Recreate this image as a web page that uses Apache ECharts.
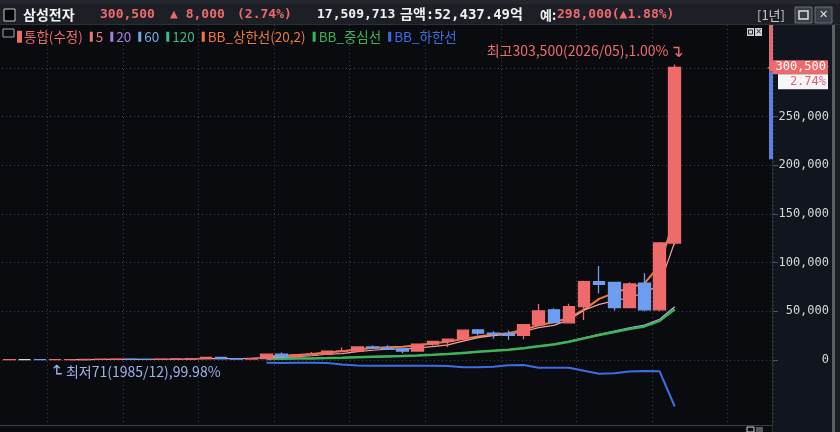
<!DOCTYPE html>
<html><head><meta charset="utf-8">
<script src="https://cdn.jsdelivr.net/npm/echarts@6/dist/echarts.min.js"></script>
<style>html,body{margin:0;padding:0;background:#0a0b0f;overflow:hidden}#c{width:840px;height:432px}</style>
</head><body><div id="c"></div>
<script>
// ---- data ----
const years = ['1982','1983','1984','1985','1986','1987','1988','1989','1990','1991','1992','1993','1994','1995','1996','1997','1998','1999','2000','2001','2002','2003','2004','2005','2006','2007','2008','2009','2010','2011','2012','2013','2014','2015','2016','2017','2018','2019','2020','2021','2022','2023','2024','2025','2026','2027','2028','2029','2030','2031','2032'];
// [open, close, low, high]
const ohlc = [
  [95,110,90,125],[110,110,100,130],[110,92,85,118],[92,125,71,130],[125,230,120,240],
  [230,420,220,450],[420,560,400,600],[560,620,500,700],[620,480,430,640],[480,430,400,560],
  [430,620,380,650],[620,900,600,950],[900,1300,880,1500],[1300,2400,1250,2600],[2400,1100,1050,2450],
  [1100,750,700,1300],[750,1350,650,1400],[1350,5800,1300,6000],[5800,3100,2600,7500],[3100,5100,2700,5400],
  [5100,5500,4600,8000],[5500,8900,5000,9300],[8900,9000,8200,12600],[9000,13200,8400,13400],[13200,12300,11000,14600],
  [12300,11200,10400,15000],[11200,9000,6600,11900],[9000,16000,8400,16400],[16000,19000,14500,19600],[19000,21200,13200,21300],
  [21200,30400,20200,30500],[30700,27400,25200,31700],[27400,26500,21700,29400],[26600,25200,20700,30200],[25200,36000,21000,36300],
  [36000,50300,35800,57200],[51300,38300,37450,53000],[38000,54700,37450,57500],[54700,80400,41000,81300],[80400,77500,68300,96500],
  [79400,53700,50600,80300],[53700,78000,53000,79800],[78800,51300,49900,89000],[51300,120000,50000,121000],[120000,300500,118000,303500]
];
const ma5 = ['-','-','-','-',133,195,285,391,462,502,542,610,746,1130,1264,1290,1380,2280,2420,3220,4150,5680,6320,8340,9780,10920,10940,12340,13500,15280,19120,22800,24900,26140,29100,33100,35300,41000,51000,57000,60500,64000,68800,77000,121000];
const pad17 = ['-','-','-','-','-','-','-','-','-','-','-','-','-','-','-','-','-'];
const ma20 = pad17.concat([1000,1150,1350,1550,1850,2200,2700,3200,3600,3900,4500,5200,6000,7200,8300,9400,10500,12000,14000,16100,19000,22500,26200,29600,32900,35600,41600,54500]);
const bbUpper = pad17.concat([3500,4200,5000,6000,7400,8800,10500,12000,13000,13500,15000,17000,18500,21500,24000,26000,27400,31000,35500,38500,43000,51500,62600,68800,74000,78500,97000,146000]);
const bbMid = pad17.concat([900,1050,1250,1450,1750,2100,2600,3100,3500,3800,4400,5100,5900,7100,8200,9300,10400,11900,13800,15800,18600,22000,25500,28600,31700,34300,40000,52000]);
const bbLower = pad17.concat([-3000,-3300,-3000,-3000,-3200,-4800,-5800,-6000,-6000,-6000,-6000,-6200,-6400,-7600,-7600,-7200,-5600,-5400,-8200,-8200,-8200,-11300,-14400,-13900,-12000,-11600,-11800,-48000]);
const yTicks = [0,50000,100000,150000,200000,250000,300000];
const scaleBar = [0, 344000, 296000, 206000];
const stockName = '삼성전자';
const changeVal = '8,000', changePct = '2.74%';
const volumeText = '17,509,713';
const amountText = '금액:52,437.49억';
const expectText = '298,000(▲1.88%)';
const highInfo = {year:'2026', value:303500, text:'최고303,500(2026/05),1.00%'};
const lowInfo = {year:'1985', value:71, text:'최저71(1985/12),99.98%'};

// ---- styles ----
const UP='#ef6b6b', DN='#6e9df2';
const MONO="'DejaVu Sans Mono', monospace";
const KR="'Noto Sans CJK KR', 'Noto Sans', sans-serif";
const fmt = v => Number(v).toLocaleString('en-US');
const last = ohlc[ohlc.length-1];

const candleData = ohlc.map((d,i)=> (d[0]===d[1]) ? {value:d, itemStyle:{color:'#d8d8d8',borderColor:'#d8d8d8'}} : d);

const legendItems = [
  ['통합(수정)', UP], ['5', '#e87a7a'], ['20', '#a97ee2'], ['60', '#78a8e0'], ['120', '#3fb98f'],
  ['BB_상한선(20,2)', '#f07a3c'], ['BB_중심선', '#3cb45a'], ['BB_하한선', '#3d6ee6']
];

const chart = echarts.init(document.getElementById('c'), null, {renderer:'canvas'});
const hdrY = 15;
function htxt(x, t, color, font){ return {type:'text', z:110, x:x, y:hdrY, style:{text:t, fill:color, font:font, verticalAlign:'middle'}}; }

chart.setOption({
  backgroundColor:'#0a0b0f',
  animation:false,
  grid:{left:2, right:67, top:25, bottom:7},
  legend:{
    left:17, top:30, itemWidth:3, itemHeight:10, itemGap:7, padding:0, icon:'rect', selectedMode:false,
    textStyle:{fontSize:13.5, fontFamily:KR, padding:[0,0,0,-2]},
    data: legendItems.map(l=>({name:l[0], textStyle:{color:l[1]}}))
  },
  xAxis:{
    type:'category', data:years, boundaryGap:true,
    axisLine:{show:false}, axisTick:{show:false}, axisLabel:{show:false},
    splitLine:{show:true, interval:(i)=> i%5===3, lineStyle:{color:'#3a3f48', type:[1,3], width:1}}
  },
  yAxis:{
    type:'value', position:'right', min:-67000, max:344000, scale:false,
    axisLine:{show:false},
    axisTick:{show:true, customValues:yTicks, length:5, lineStyle:{color:'#4c525c'}},
    axisLabel:{customValues:yTicks, formatter:v=>fmt(v), color:'#d8d8d8', fontFamily:MONO, fontSize:12, align:'right', margin:56},
    splitLine:{show:true, lineStyle:{color:'#3a3f48', type:[1,3], width:1}}
  },
  series:[
    {name:'120', type:'line', data:[], color:'#3fb98f'},
    {name:'60', type:'line', data:[], color:'#78a8e0'},
    {name:'BB_하한선', type:'line', data:bbLower, color:'#3d6ee6', symbol:'none', lineStyle:{width:2}},
    {name:'20', type:'line', data:ma20, color:'#a97ee2', symbol:'none', lineStyle:{width:1.2, color:'#c9a6f0'}},
    {name:'BB_중심선', type:'line', data:bbMid, color:'#3cb45a', symbol:'none', lineStyle:{width:2.5}},
    {name:'BB_상한선(20,2)', type:'line', data:bbUpper, color:'#f07a3c', symbol:'none', lineStyle:{width:2}},
    {name:'5', type:'line', data:ma5, color:'#e87a7a', symbol:'none', lineStyle:{width:1.2, color:'#eaa2a2'}},
    {name:'통합(수정)', type:'candlestick', data:candleData, barWidth:12, z:3, clip:false,
      itemStyle:{color:UP, color0:DN, borderColor:UP, borderColor0:DN, borderWidth:1.3},
      markPoint:{
        symbol:'circle', symbolSize:1, itemStyle:{color:'rgba(0,0,0,0)'}, silent:true,
        data:[
          {name:'hi', coord:[highInfo.year, highInfo.value], label:{show:true, position:'inside', align:'right', verticalAlign:'middle', offset:[9,-14],
            formatter:'{t|'+highInfo.text+'}{a|↴}', rich:{t:{color:UP, fontFamily:KR, fontSize:14}, a:{color:UP, fontFamily:'DejaVu Sans', fontSize:17, padding:[4,0,0,1]}}}},
          {name:'loArrow', coord:[lowInfo.year, lowInfo.value], label:{show:true, position:'inside', align:'center', verticalAlign:'middle', offset:[-4,-9], rotate:180,
            formatter:'↴', color:'#9cb2ea', fontFamily:'DejaVu Sans', fontSize:16}},
          {name:'lo', coord:[lowInfo.year, lowInfo.value], label:{show:true, position:'inside', align:'left', verticalAlign:'middle', offset:[11,12],
            formatter:lowInfo.text, color:'#9cb2ea', fontFamily:KR, fontSize:14}}
        ]
      },
      markLine:{
        silent:true, symbol:['none','none'],
        lineStyle:{color:'rgba(0,0,0,0)', width:0, opacity:1},
        label:{show:true},
        data:[{yAxis:last[1],
          label:{show:true, position:'end', distance:-6, formatter:'{e|}\n{t|◀}{a|'+fmt(last[1])+'}\n{b|'+changePct+'}',
            rich:{
              e:{height:15},
              t:{color:UP, fontFamily:'DejaVu Sans', fontSize:9, width:6, height:14, align:'left'},
              a:{backgroundColor:UP, color:'#ffffff', fontFamily:MONO, fontSize:12, width:53, height:14, align:'right', padding:[0,2,0,0]},
              b:{backgroundColor:'#f6f6f6', color:'#e2607c', fontFamily:MONO, fontSize:12, width:48, height:15, align:'right', padding:[0,2,0,0]}
            }}}]
      }
    },
    {name:'scaleBar', type:'custom', z:5, silent:true, clip:false, encode:{x:0, y:[1,2,3]}, data:[scaleBar],
      renderItem:(params, api)=>{
        const cs = params.coordSys; const x = cs.x + cs.width - 4;
        const y0 = api.coord([0, api.value(1)])[1], y1 = api.coord([0, api.value(2)])[1], y2 = api.coord([0, api.value(3)])[1];
        return {type:'group', children:[
          {type:'rect', shape:{x:x, y:y0, width:4, height:y1-y0}, style:{fill:'#e06a72'}},
          {type:'rect', shape:{x:x, y:y1, width:4, height:y2-y1}, style:{fill:'#5a7ee2'}}
        ]};
      }}
  ],
  graphic:[
    {type:'rect', z:-1, shape:{x:773, y:25, width:60, height:407}, style:{fill:'#11151d'}},
    {type:'rect', z:-1, shape:{x:772, y:25, width:1, height:407}, style:{fill:'#2a2f38'}},
    {type:'rect', z:-1, shape:{x:832, y:25, width:3, height:407}, style:{fill:'#5a5e66'}},
    {type:'rect', z:-1, shape:{x:835, y:25, width:5, height:407}, style:{fill:'#1a1d22'}},
    {type:'rect', z:-1, shape:{x:0, y:425, width:772, height:1}, style:{fill:'#3a3e46'}},
    {type:'rect', z:100, shape:{x:0, y:0, width:840, height:4}, style:{fill:'#24272d'}},
    {type:'rect', z:100, shape:{x:0, y:4, width:840, height:21}, style:{fill:'#1c1f26'}},
    {type:'rect', z:100, shape:{x:0, y:24, width:840, height:1}, style:{fill:'#2c3038'}},
    {type:'rect', z:110, shape:{x:4, y:9, width:11, height:12}, style:{fill:'#050505', stroke:'#c8c8c8', lineWidth:1}},
    htxt(23, stockName, '#f2f2f2', 'bold 14px '+KR),
    htxt(100, fmt(last[1]), UP, 'bold 13px '+MONO),
    htxt(170, '▲ '+changeVal, UP, 'bold 13px '+MONO),
    htxt(237, '('+changePct+')', UP, 'bold 13px '+MONO),
    htxt(317, volumeText, '#f0f0f0', 'bold 13px '+MONO),
    htxt(400, amountText, '#f0f0f0', 'bold 14px '+MONO+', '+KR),
    htxt(540, '예:', '#f0f0f0', 'bold 13px '+KR),
    htxt(557, expectText, UP, 'bold 13px '+MONO),
    htxt(757, '[1년]', '#c8c8c8', '13px '+KR),
    {type:'rect', z:110, shape:{x:795, y:7, width:17, height:16}, style:{fill:'#3a3e46', stroke:'#6a6e76', lineWidth:1}},
    {type:'rect', z:111, shape:{x:799, y:11, width:9, height:8}, style:{fill:'none', stroke:'#e0e0e0', lineWidth:1.5}},
    {type:'rect', z:110, shape:{x:815, y:7, width:17, height:16}, style:{fill:'#3a3e46', stroke:'#6a6e76', lineWidth:1}},
    {type:'text', z:111, x:823.5, y:15, style:{text:'✕', fill:'#e0e0e0', font:'bold 11px DejaVu Sans', align:'center', verticalAlign:'middle'}},
    {type:'rect', z:110, shape:{x:3, y:29, width:11, height:8}, style:{fill:'none', stroke:'#a0a6ae', lineWidth:1}},
    {type:'rect', z:110, shape:{x:747, y:28, width:7, height:8}, style:{fill:'#cfd2d6'}},
    {type:'rect', z:111, shape:{x:748.5, y:30, width:4, height:4}, style:{fill:'none', stroke:'#222', lineWidth:1}},
    {type:'rect', z:110, shape:{x:755, y:28, width:7, height:8}, style:{fill:'#cfd2d6'}},
    {type:'text', z:111, x:758.5, y:32, style:{text:'×', fill:'#222', font:'8px DejaVu Sans', align:'center', verticalAlign:'middle'}},
    {type:'rect', z:110, shape:{x:747, y:427, width:7, height:5}, style:{fill:'none', stroke:'#cfd2d6', lineWidth:1}},
    {type:'rect', z:110, shape:{x:756, y:427, width:7, height:5}, style:{fill:'#555a62'}}
  ]
});
</script></body></html>
